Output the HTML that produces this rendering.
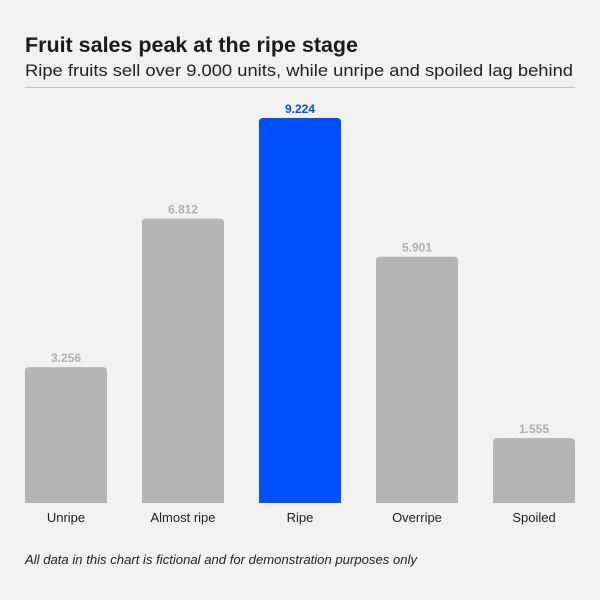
<!DOCTYPE html>
<html><head><meta charset="utf-8"><style>
html,body{margin:0;padding:0;background:#f2f2f2;}
svg{display:block;font-family:"Liberation Sans",sans-serif;}
</style></head><body>
<svg id="chart" width="600" height="600" viewBox="0 0 600 600">
<rect width="600" height="600" fill="#f2f2f2"/>
<text x="25" y="52" font-size="21" font-weight="bold" fill="#1a1a1a" textLength="333" lengthAdjust="spacingAndGlyphs">Fruit sales peak at the ripe stage</text>
<text x="25" y="76" font-size="17" fill="#222" textLength="548" lengthAdjust="spacingAndGlyphs">Ripe fruits sell over 9.000 units, while unripe and spoiled lag behind</text>
<line x1="25" y1="87.5" x2="575" y2="87.5" stroke="#c4c4c4" stroke-width="1"/>
<g id="bars"></g>
<text x="25" y="564" font-size="13" font-style="italic" fill="#222" textLength="392" lengthAdjust="spacingAndGlyphs">All data in this chart is fictional and for demonstration purposes only</text>
</svg>
<script>
const categories = ["Unripe","Almost ripe","Ripe","Overripe","Spoiled"];
const values = [3256,6812,9224,5901,1555];
const valueLabels = ["3.256","6.812","9.224","5.901","1.555"];
const highlight = [false,false,true,false,false];

const baseline = 503, plotTop = 118, maxVal = 9224;
const left = 25, right = 575, n = categories.length, barW = 82;
const step = (right - left - barW) / (n - 1);
function y(v){ return baseline - v / maxVal * (baseline - plotTop); }
function x(i){ return left + i * step; }
const NS = "http://www.w3.org/2000/svg";
const g = document.getElementById("bars");
categories.forEach((c, i) => {
  const top = y(values[i]), h = baseline - top, r = 4, x0 = x(i);
  const col = highlight[i] ? "#0050ff" : "#b5b5b5";
  const p = document.createElementNS(NS, "path");
  p.setAttribute("d", `M${x0},${baseline}V${top+r}Q${x0},${top} ${x0+r},${top}H${x0+barW-r}Q${x0+barW},${top} ${x0+barW},${top+r}V${baseline}Z`);
  p.setAttribute("fill", col);
  
  
  g.appendChild(p);
  const t = document.createElementNS(NS, "text");
  t.setAttribute("x", x0 + barW / 2);
  t.setAttribute("y", top - 5);
  t.setAttribute("text-anchor", "middle");
  t.setAttribute("font-size", "12");
  t.setAttribute("font-weight", "bold");
  t.setAttribute("fill", highlight[i] ? "#0a50e0" : "#b0b0b0");
  t.textContent = valueLabels[i];
  
  
  g.appendChild(t);
  const l = document.createElementNS(NS, "text");
  l.setAttribute("x", x0 + barW / 2);
  l.setAttribute("y", 522);
  l.setAttribute("text-anchor", "middle");
  l.setAttribute("font-size", "13");
  l.setAttribute("fill", "#222");
  l.textContent = c;
  
  
  g.appendChild(l);
});
</script>
</body></html>
